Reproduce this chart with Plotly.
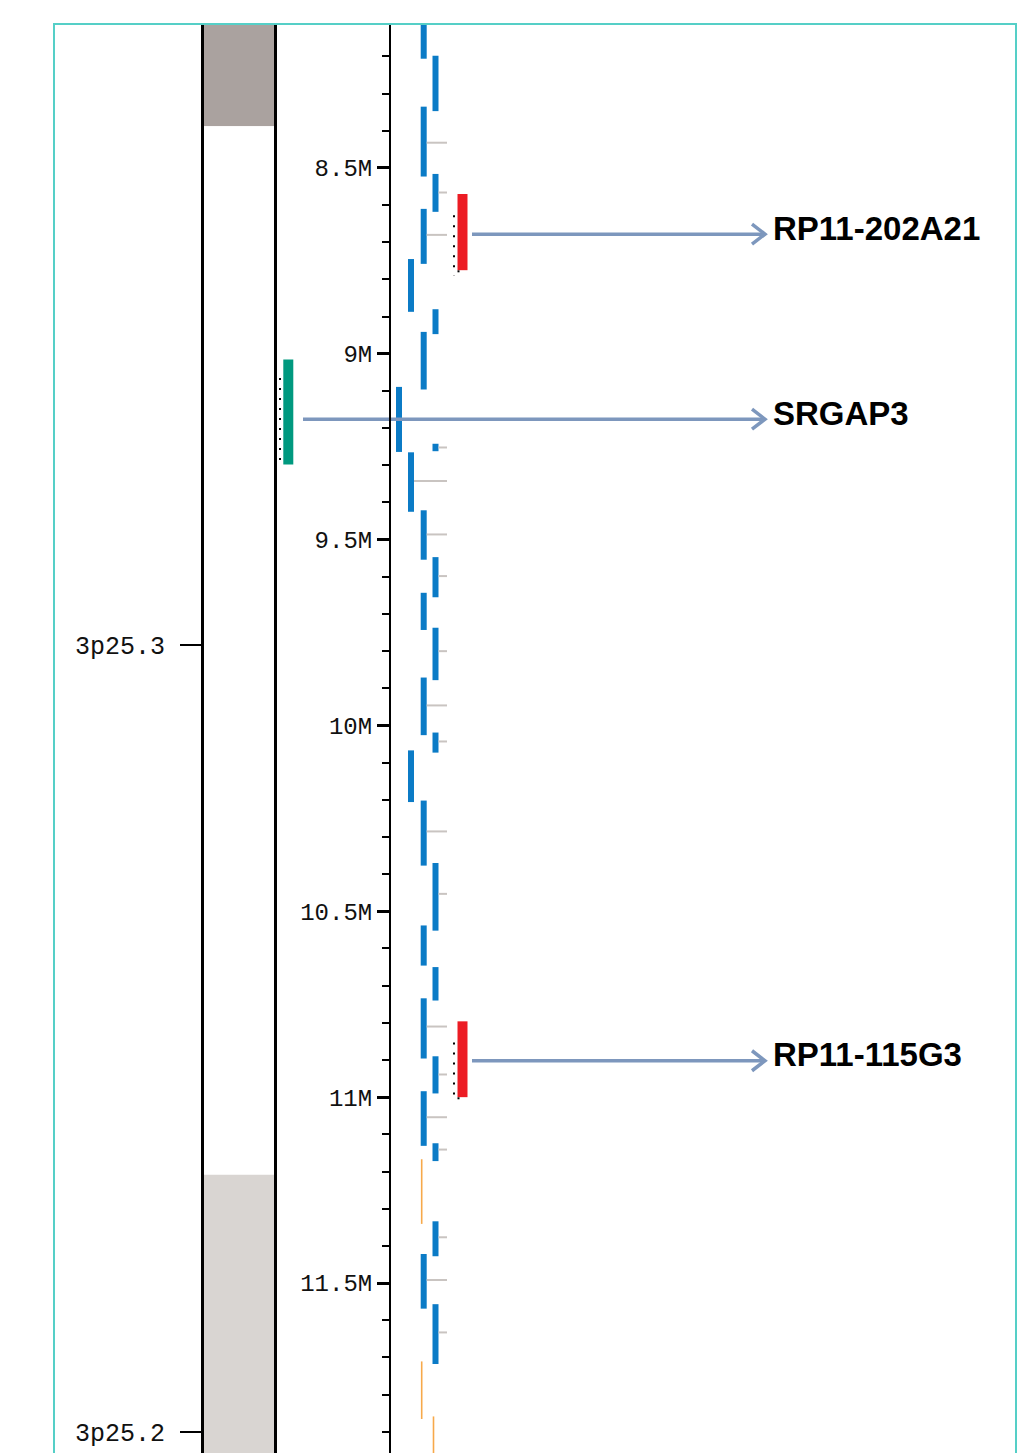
import plotly.graph_objects as go

# ---------------- data ----------------
# axis ticks (Mb)
major_ticks = [8.5, 9.0, 9.5, 10.0, 10.5, 11.0, 11.5]
major_labels = ["8.5M", "9M", "9.5M", "10M", "10.5M", "11M", "11.5M"]

# cytobands
band_names = ["3p26.1", "3p25.3", "3p25.2"]
band_starts = [7.90, 8.388, 11.209]
band_ends = [8.388, 11.209, 12.60]
band_stains = ["gpos50", "gneg", "gpos25"]
band_label_names = ["3p25.3", "3p25.2"]
band_label_pos = [9.783, 11.901]

# genes (lane, start Mb, end Mb)
gene_lane = (["A"] * 3
             + ["B"] * 12
             + ["C"] * 13
             + ["S"])
gene_start = [8.745, 9.265, 10.067,
              8.100, 8.335, 8.610, 8.941, 9.421, 9.643, 9.871, 10.202, 10.538, 10.734, 10.984, 11.422,
              8.198, 8.516, 8.880, 9.242, 9.547, 9.737, 10.019, 10.370, 10.650, 10.890, 11.124, 11.334, 11.557,
              9.089]
gene_end = [8.887, 9.425, 10.206,
            8.206, 8.523, 8.758, 9.096, 9.554, 9.743, 10.026, 10.377, 10.646, 10.896, 11.131, 11.569,
            8.347, 8.618, 8.947, 9.262, 9.655, 9.878, 10.073, 10.552, 10.740, 10.990, 11.172, 11.428, 11.718,
            9.264]

# transcript tick marks (lane, position Mb)
mark_lane = ["A"] + ["B"] * 8 + ["C"] * 10
mark_pos = [9.342,
            8.432, 8.680, 9.486, 9.946, 10.285, 10.810, 11.054, 11.492,
            8.566, 9.252, 9.598, 9.800, 10.043, 10.453, 10.939, 11.141, 11.377, 11.633]

# pseudogenes / other (orange)
other_lane = ["B", "B", "C"]
other_start = [11.167, 11.711, 11.859]
other_end = [11.341, 11.866, 12.05]

# BAC clones
clone_names = ["RP11-202A21", "RP11-115G3"]
clone_start = [8.570, 10.796]
clone_end = [8.775, 11.000]

# highlighted gene
hl_gene_name = "SRGAP3"
hl_gene_start = 9.015
hl_gene_end = 9.298

# callouts
callout_names = ["RP11-202A21", "SRGAP3", "RP11-115G3"]
callout_y = [8.678, 9.176, 10.902]
callout_kind = ["clone", "gene", "clone"]

# ---------------- style ----------------
PX_PER_MB = 371.67
Y_TOP, Y_BOT = 8.1153, 11.9574
lane_x = {"S": 399.0, "A": 411.0, "B": 423.7, "C": 435.5}
LANE_W = 6
MARK_END_X = 447
stain_color = {"gpos50": "#aaa29f", "gneg": "#ffffff", "gpos25": "#d9d5d2"}
BLUE = "#0b7bc6"
ORANGE = "#f7a94a"
GRAYMARK = "#c9c4c1"
RED = "#ec1c24"
TEAL = "#00997f"
ARROW = "#7d97bd"
IDEO_X0, IDEO_X1 = 202, 276
CLONE_X, CLONE_W = 462.5, 10
HL_X, HL_W = 288.3, 10
ARROW_END = 765
arrow_start = {"clone": 472, "gene": 303}
MONO = "Liberation Mono, DejaVu Sans Mono, monospace"

fig = go.Figure()

# ideogram bands
for s, e, st in zip(band_starts, band_ends, band_stains):
    fig.add_shape(type="rect", xref="x", yref="y", x0=IDEO_X0, x1=IDEO_X1, y0=s, y1=e,
                  fillcolor=stain_color[st], line_width=0, layer="below")
for xx in (IDEO_X0 + 0.5, IDEO_X1 - 0.5):
    fig.add_shape(type="line", xref="x", yref="y", x0=xx, x1=xx, y0=Y_TOP - 0.1, y1=Y_BOT + 0.1,
                  line=dict(color="black", width=3))

# gray transcript marks
mx, my = [], []
for ln, p in zip(mark_lane, mark_pos):
    mx += [lane_x[ln] + LANE_W / 2, MARK_END_X, None]
    my += [p, p, None]
fig.add_trace(go.Scatter(x=mx, y=my, mode="lines", line=dict(color=GRAYMARK, width=2),
                         hoverinfo="skip"))

# genes
fig.add_trace(go.Bar(x=[lane_x[l] for l in gene_lane],
                     y=[e - s for s, e in zip(gene_start, gene_end)],
                     base=gene_start, width=LANE_W,
                     marker=dict(color=BLUE, line=dict(width=0))))

# orange
ox, oy = [], []
for ln, s, e in zip(other_lane, other_start, other_end):
    xx = lane_x[ln] - 2
    ox += [xx, xx, None]
    oy += [s, e, None]
fig.add_trace(go.Scatter(x=ox, y=oy, mode="lines", line=dict(color=ORANGE, width=1.6),
                         hoverinfo="skip"))

# clones
fig.add_trace(go.Bar(x=[CLONE_X] * len(clone_names),
                     y=[e - s for s, e in zip(clone_start, clone_end)],
                     base=clone_start, width=CLONE_W,
                     marker=dict(color=RED, line=dict(width=0))))
dx, dy = [], []
for s, e in zip(clone_start, clone_end):
    dx += [CLONE_X - 8.5, CLONE_X - 8.5, None, CLONE_X - 5, CLONE_X + 5, None]
    dy += [s + 0.057, e + 0.014, None, e + 0.003, e + 0.003, None]
dx += [HL_X - 8.3, HL_X - 8.3, None]
dy += [hl_gene_start + 0.05, hl_gene_end + 0.006, None]
fig.add_trace(go.Scatter(x=dx, y=dy, mode="lines",
                         line=dict(color="black", width=2, dash="2px,8px"), hoverinfo="skip"))

# highlighted gene
fig.add_trace(go.Bar(x=[HL_X], y=[hl_gene_end - hl_gene_start], base=[hl_gene_start],
                     width=HL_W, marker=dict(color=TEAL, line=dict(width=0))))

# callout arrows
ax, ay = [], []
hd = 10 / PX_PER_MB
for k, yv in zip(callout_kind, callout_y):
    ax += [arrow_start[k], ARROW_END, None, ARROW_END - 13, ARROW_END, ARROW_END - 13, None]
    ay += [yv, yv, None, yv - hd, yv, yv + hd, None]
fig.add_trace(go.Scatter(x=ax, y=ay, mode="lines", line=dict(color=ARROW, width=3.5),
                         hoverinfo="skip"))

for name, yv in zip(callout_names, callout_y):
    fig.add_annotation(x=771, y=yv, xref="x", yref="y", text="<b>" + name + "</b>",
                       showarrow=False, xanchor="left", yanchor="middle", yshift=6,
                       font=dict(family="Liberation Sans Narrow, Arial Narrow, Liberation Sans, Arial",
                                 size=33, color="black"))

# border
fig.add_shape(type="rect", xref="paper", yref="paper", x0=54 / 1025, x1=1016 / 1025,
              y0=-0.05, y1=1 + 1 / 1428, line=dict(color="#55cfc7", width=2))

# band label axis (dummy trace to activate y2)
fig.add_trace(go.Scatter(x=[None], y=[None], yaxis="y2", showlegend=False))

fig.update_layout(
    width=1025, height=1453,
    margin=dict(l=0, r=0, t=25, b=0, pad=0),
    paper_bgcolor="white", plot_bgcolor="white",
    barmode="overlay", showlegend=False,
    xaxis=dict(range=[0, 1025], domain=[0, 1], visible=False, fixedrange=True),
    yaxis=dict(range=[Y_BOT, Y_TOP], domain=[0, 1], anchor="free", position=390 / 1025,
               side="left", showline=True, linecolor="black", linewidth=2,
               ticks="outside", ticklen=12, tickwidth=3, tickcolor="black",
               tickvals=major_ticks, ticktext=major_labels, ticklabelstandoff=0,
               tickfont=dict(family=MONO, size=24, color="#111111"),
               showgrid=False, zeroline=False,
               minor=dict(ticks="outside", dtick=0.1, tick0=8.0, ticklen=7, tickwidth=2,
                          tickcolor="black", showgrid=False)),
    yaxis2=dict(range=[Y_BOT, Y_TOP], domain=[0, 1], overlaying="y", anchor="free",
                position=IDEO_X0 / 1025 - 0.001, side="left", showline=False,
                ticks="outside", ticklen=21, tickwidth=2, tickcolor="black",
                tickvals=band_label_pos, ticktext=band_label_names, ticklabelstandoff=10,
                tickfont=dict(family=MONO, size=25, color="#111111"),
                showgrid=False, zeroline=False),
)

fig.write_html("out.html", post_script="document.body.style.margin='0';",
               config={"displayModeBar": False})
